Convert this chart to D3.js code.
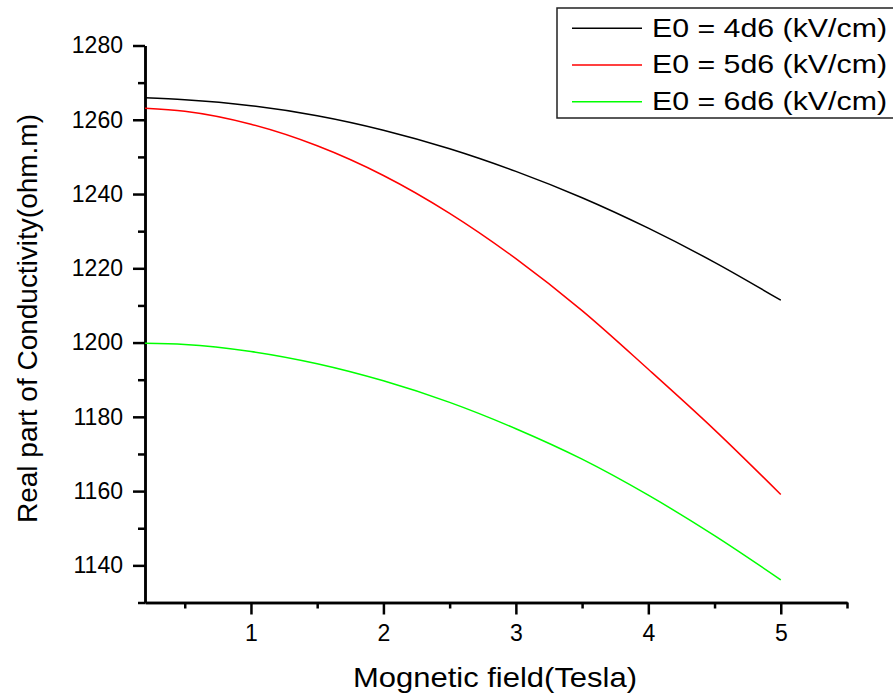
<!DOCTYPE html>
<html>
<head>
<meta charset="utf-8">
<script src="https://cdn.jsdelivr.net/npm/d3@7"></script>
<style>
  body { margin: 0; background: #fff; }
  svg { font-family: "Liberation Sans", Arial, sans-serif; display: block; }
  .axis path, .axis line { stroke: #000; stroke-width: 2.5; }
  .axis text { font-size: 23px; fill: #000; }
</style>
</head>
<body>
<div id="chart"></div>
<script>
// magnetic field (Tesla)
const field = [0.2, 0.5, 1, 1.5, 2, 2.5, 3, 3.5, 4, 4.5, 5];
// real part of conductivity, one array per E0
const e4 = [1265.9, 1265.4, 1263.8, 1261.1, 1257.2, 1252.2, 1246.1, 1239.0, 1230.8, 1221.6, 1211.4];
const e5 = [1263.1, 1262.3, 1258.8, 1253.0, 1245.0, 1234.8, 1222.6, 1208.6, 1192.8, 1176.5, 1159.1];
const e6 = [1199.8, 1199.5, 1197.6, 1194.3, 1189.7, 1183.9, 1176.8, 1168.6, 1158.9, 1148.0, 1136.1];

const seriesNames = ["E0 = 4d6 (kV/cm)", "E0 = 5d6 (kV/cm)", "E0 = 6d6 (kV/cm)"];
const seriesColors = ["#000000", "#ff0000", "#00ff00"];

const xMajor = [1, 2, 3, 4, 5];
const xMinor = [0.5, 1.5, 2.5, 3.5, 4.5, 5.5];
const yMajor = [1140, 1160, 1180, 1200, 1220, 1240, 1260, 1280];
const yMinor = [1130, 1150, 1170, 1190, 1210, 1230, 1250, 1270];

let width = 893,
  height = 695,
  margin = ({ top: 45.5, right: 46, bottom: 92.5, left: 145 });

const svg = d3.select("#chart")
  .append("svg")
  .attr("width", width)
  .attr("height", height);

let x = d3.scaleLinear()
  .domain([0.2, 5.5])
  .range([margin.left, width - margin.right]);

let y = d3.scaleLinear()
  .domain([1130, 1280])
  .range([height - margin.bottom, margin.top]);

// minor ticks first, then major ticks with labels
svg.append("g")
  .attr("class", "axis")
  .attr("transform", `translate(${margin.left},0)`)
  .call(d3.axisLeft(y).tickValues(yMinor).tickSize(7).tickSizeOuter(0).tickFormat(""));

svg.append("g")
  .attr("class", "axis")
  .attr("transform", `translate(${margin.left},0)`)
  .call(d3.axisLeft(y).tickValues(yMajor).tickSize(12).tickSizeOuter(0).tickPadding(10).tickFormat(d3.format("d")));

svg.append("g")
  .attr("class", "axis")
  .attr("transform", `translate(0,${height - margin.bottom})`)
  .call(d3.axisBottom(x).tickValues(xMinor).tickSize(6).tickSizeOuter(0).tickFormat(""));

svg.append("g")
  .attr("class", "axis x-major")
  .attr("transform", `translate(0,${height - margin.bottom})`)
  .call(d3.axisBottom(x).tickValues(xMajor).tickSize(12).tickSizeOuter(0).tickFormat(d3.format("d")))
  .selectAll("text")
  .attr("y", 38)
  .attr("dy", 0);

// lines
const line = d3.line()
  .x((d, i) => x(field[i]))
  .y(d => y(d))
  .curve(d3.curveMonotoneX);

[e4, e5, e6].forEach((s, i) => {
  svg.append("path")
    .datum(s)
    .attr("fill", "none")
    .attr("stroke", seriesColors[i])
    .attr("stroke-width", 1.5)
    .attr("d", line);
});

// legend
const legend = svg.append("g");
legend.append("rect")
  .attr("x", 557)
  .attr("y", 8)
  .attr("width", 345)
  .attr("height", 110)
  .attr("fill", "#fff")
  .attr("stroke", "#222")
  .attr("stroke-width", 1.5);

seriesNames.forEach((name, i) => {
  let ly = 28.3 + i * 36.7;
  legend.append("line")
    .attr("x1", 572).attr("x2", 642)
    .attr("y1", ly).attr("y2", ly)
    .attr("stroke", seriesColors[i])
    .attr("stroke-width", 1.5);
  legend.append("text")
    .attr("x", 652)
    .attr("y", ly + 8.4)
    .attr("font-size", 25)
    .attr("textLength", 235)
    .attr("lengthAdjust", "spacingAndGlyphs")
    .text(name);
});

// labels
svg.append("text")
  .attr("text-anchor", "middle")
  .attr("x", 495)
  .attr("y", 686.7)
  .attr("font-size", 28)
  .attr("textLength", 284)
  .attr("lengthAdjust", "spacingAndGlyphs")
  .text("Mognetic field(Tesla)");

svg.append("text")
  .attr("text-anchor", "middle")
  .attr("transform", "translate(37,318.5) rotate(-90)")
  .attr("font-size", 28)
  .attr("textLength", 409)
  .attr("lengthAdjust", "spacingAndGlyphs")
  .text("Real part of Conductivity(ohm.m)");
</script>
</body>
</html>
